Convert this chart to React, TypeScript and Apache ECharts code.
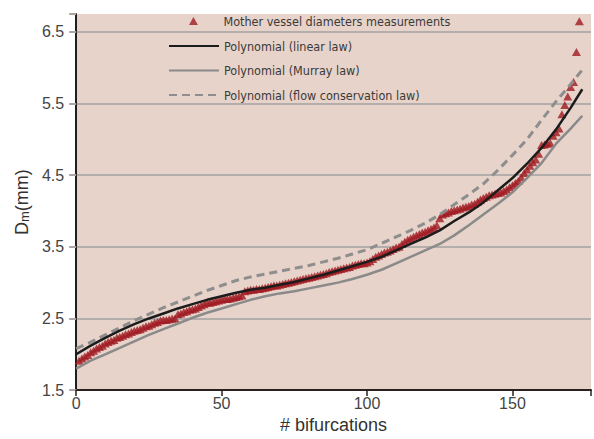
import React, { useEffect, useRef } from "react";
import * as echarts from "echarts";

// Measured mother vessel diameters (mm), one per bifurcation index 1..173
const measuredDiameters = [
  1.91, 1.94, 1.97, 1.99, 2.03, 2.05, 2.08, 2.10, 2.12, 2.15,
  2.17, 2.19, 2.20, 2.23, 2.24, 2.26, 2.28, 2.29, 2.31, 2.33,
  2.34, 2.35, 2.37, 2.39, 2.40, 2.42, 2.44, 2.45, 2.47, 2.48,
  2.48, 2.49, 2.50, 2.50, 2.56, 2.57, 2.59, 2.60, 2.62, 2.63,
  2.64, 2.66, 2.68, 2.70, 2.72, 2.72, 2.73, 2.74, 2.75, 2.76,
  2.77, 2.77, 2.78, 2.79, 2.80, 2.81, 2.82, 2.88, 2.89, 2.90,
  2.90, 2.91, 2.91, 2.92, 2.93, 2.94, 2.95, 2.96, 2.96, 2.97,
  2.98, 2.99, 3.00, 3.01, 3.02, 3.03, 3.04, 3.05, 3.06, 3.07,
  3.08, 3.09, 3.10, 3.11, 3.12, 3.13, 3.15, 3.16, 3.17, 3.18,
  3.19, 3.20, 3.21, 3.22, 3.24, 3.25, 3.26, 3.27, 3.27, 3.28,
  3.30, 3.33, 3.36, 3.38, 3.40, 3.42, 3.43, 3.45, 3.47, 3.49,
  3.50, 3.54, 3.57, 3.60, 3.62, 3.64, 3.66, 3.68, 3.70, 3.71,
  3.73, 3.75, 3.77, 3.80, 3.90, 3.95, 3.97, 3.98, 4.00, 4.01,
  4.02, 4.03, 4.05, 4.06, 4.07, 4.09, 4.10, 4.13, 4.16, 4.18,
  4.20, 4.22, 4.23, 4.24, 4.25, 4.26, 4.28, 4.30, 4.33, 4.36,
  4.39, 4.42, 4.47, 4.53, 4.58, 4.63, 4.68, 4.72, 4.80, 4.92,
  4.93, 4.94, 4.95, 5.05, 5.10, 5.15, 5.35, 5.48, 5.60, 5.73,
  5.80, 6.22, 6.65,
];

// Polynomial fits sampled along the x axis
const fitX = [0, 5, 10, 15, 20, 25, 30, 35, 40, 45, 50, 55, 60, 65, 70, 75, 80, 85, 90, 95, 100, 105, 110, 115, 120, 125, 130, 135, 140, 145, 150, 155, 160, 165, 170, 174];
const linearLaw = [2.00, 2.12, 2.23, 2.33, 2.42, 2.50, 2.57, 2.64, 2.70, 2.76, 2.81, 2.86, 2.90, 2.93, 2.97, 3.01, 3.06, 3.11, 3.17, 3.23, 3.29, 3.36, 3.45, 3.54, 3.63, 3.73, 3.86, 3.98, 4.12, 4.29, 4.46, 4.66, 4.88, 5.14, 5.44, 5.70];
const murrayLaw = [1.80, 1.91, 2.00, 2.09, 2.18, 2.27, 2.35, 2.43, 2.51, 2.58, 2.64, 2.70, 2.76, 2.81, 2.85, 2.88, 2.92, 2.96, 3.00, 3.05, 3.11, 3.18, 3.27, 3.36, 3.45, 3.54, 3.66, 3.80, 3.95, 4.10, 4.26, 4.46, 4.67, 4.94, 5.15, 5.33];
const flowLaw = [2.08, 2.17, 2.27, 2.37, 2.47, 2.56, 2.65, 2.73, 2.81, 2.89, 2.96, 3.03, 3.08, 3.12, 3.16, 3.20, 3.24, 3.29, 3.34, 3.40, 3.46, 3.55, 3.64, 3.73, 3.83, 3.95, 4.09, 4.23, 4.38, 4.57, 4.78, 5.00, 5.27, 5.53, 5.77, 5.97];

const seriesNames = [
  "Mother vessel diameters measurements",
  "Polynomial (linear law)",
  "Polynomial (Murray law)",
  "Polynomial (flow conservation law)",
];

const yTicks = [1.5, 2.5, 3.5, 4.5, 5.5, 6.5];
const xTicks = [0, 50, 100, 150];

const TRIANGLE = "path://M5,0 L10,9 L0,9 Z";

export default function App() {
  const ref = useRef<HTMLDivElement>(null);
  useEffect(() => {
    if (!ref.current) return;
    const chart = echarts.init(ref.current, null, { renderer: "svg" });
    const pairs = (xs: number[], ys: number[]) => xs.map((x, i) => [x, ys[i]]);
    const legendText = {
      fontFamily: "'DejaVu Sans Condensed', sans-serif",
      fontSize: 12.5,
      lineHeight: 16,
      color: "#3a3a3a",
    };
    const labelFont = "'Liberation Sans', Arial, sans-serif";
    chart.setOption({
      animation: false,
      backgroundColor: "#ffffff",
      grid: {
        left: 74,
        right: 0,
        top: 14,
        bottom: 41,
        show: true,
        backgroundColor: "#e7d3c9",
        borderWidth: 0,
      },
      legend: [
        {
          data: [{ name: seriesNames[0], icon: TRIANGLE }],
          left: 184,
          top: 8,
          orient: "vertical",
          itemWidth: 50,
          itemHeight: 8,
          symbolKeepAspect: true,
          textStyle: legendText,
          selectedMode: false,
        },
        {
          data: seriesNames.slice(1),
          left: 163,
          top: 33,
          orient: "vertical",
          itemWidth: 50,
          itemHeight: 14,
          itemGap: 8.5,
          textStyle: legendText,
          itemStyle: { color: "rgba(0,0,0,0)", borderColor: "rgba(0,0,0,0)", borderWidth: 0 },
          selectedMode: false,
        },
      ],
      xAxis: {
        type: "value",
        min: 0,
        max: 177,
        interval: 50,
        name: "# bifurcations",
        nameLocation: "middle",
        nameGap: 22,
        nameTextStyle: { fontFamily: labelFont, fontSize: 18, color: "#333" },
        axisLine: { show: true, lineStyle: { color: "#2a201d", width: 2 } },
        axisTick: { show: true, length: 6, lineStyle: { color: "#2a201d", width: 1.5 } },
        axisLabel: {
          fontFamily: labelFont,
          fontSize: 16,
          color: "#444",
          margin: 5,
          formatter: (v: number) => (xTicks.includes(v) ? String(v) : ""),
        },
        splitLine: { show: false },
      },
      yAxis: {
        type: "value",
        min: 1.5,
        max: 6.75,
        interval: 1,
        name: "D{sub|m}(mm)",
        nameLocation: "middle",
        nameGap: 44,
        nameRotate: 90,
        nameTextStyle: {
          fontFamily: labelFont,
          fontSize: 18,
          color: "#333",
          rich: {
            sub: { fontFamily: labelFont, fontSize: 13, color: "#333", verticalAlign: "bottom", lineHeight: 13, padding: [10, 0, 0, 0] },
          },
        },
        axisLine: { show: true, lineStyle: { color: "#1e1e1e", width: 2 } },
        axisTick: { show: true, length: 7, lineStyle: { color: "#aaa5a3", width: 2 } },
        axisLabel: {
          fontFamily: labelFont,
          fontSize: 16,
          color: "#444",
          margin: 12,
          formatter: (v: number) => (yTicks.some((t) => Math.abs(t - v) < 1e-6) ? v.toFixed(1) : ""),
        },
        splitLine: { show: true, showMaxLine: false, lineStyle: { color: "#b3adab", width: 2 } },
      },
      series: [
        {
          name: seriesNames[2],
          type: "line",
          data: pairs(fitX, murrayLaw),
          symbol: "none",
          lineStyle: { color: "#8a8a8a", width: 2.5 },
          itemStyle: { color: "#8a8a8a" },
        },
        {
          name: seriesNames[3],
          type: "line",
          data: pairs(fitX, flowLaw),
          symbol: "none",
          lineStyle: { color: "#8e8e8e", width: 3, type: [8, 5] },
          itemStyle: { color: "#8e8e8e" },
        },
        {
          name: seriesNames[1],
          type: "line",
          data: pairs(fitX, linearLaw),
          symbol: "none",
          lineStyle: { color: "#1c1c1c", width: 2.5 },
          itemStyle: { color: "#1c1c1c" },
        },
        {
          name: seriesNames[0],
          type: "scatter",
          data: measuredDiameters.map((v, i) => [i + 1, v]),
          symbol: "triangle",
          symbolSize: [9, 8],
          itemStyle: { color: "#a01a22" },
        },
      ],
    });
    return () => chart.dispose();
  }, []);
  return (
    <div
      ref={ref}
      style={{ position: "fixed", left: 0, top: 0, width: 594, height: 439 }}
    />
  );
}
